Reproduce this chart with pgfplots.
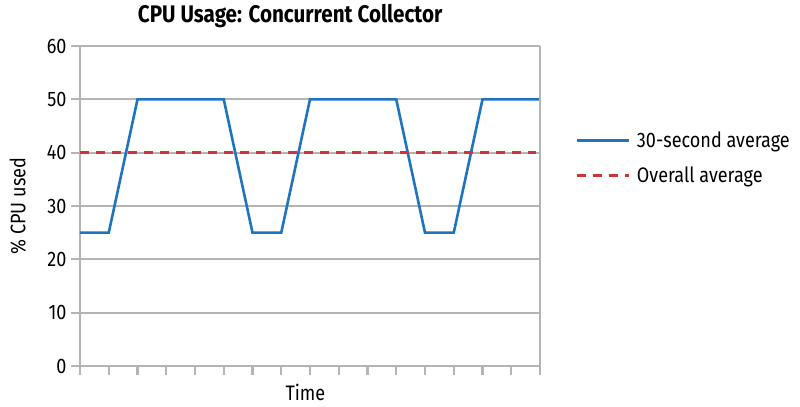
\documentclass[border=0pt]{standalone}
\usepackage{fontspec}
\setmainfont[FakeStretch=0.86]{Fira Sans}
\usepackage{pgfplots}
\pgfplotsset{compat=1.18}
\definecolor{cpublue}{HTML}{1F74C0}
\definecolor{avgred}{HTML}{D0343A}
\definecolor{gridgray}{HTML}{B4B4B4}
\begin{document}
\begin{tikzpicture}[x=1bp,y=1bp]
\useasboundingbox (-80bp,-41bp) rectangle (720bp,366bp);
\begin{axis}[
  at={(0,0)}, anchor=origin,
  scale only axis,
  width=460bp, height=320bp,
  xmin=0, xmax=16, ymin=0, ymax=60,
  xtick={0,...,16}, xticklabels={},
  ytick={0,10,...,60},
  axis x line*=bottom,
  axis y line*=left,
  ymajorgrids,
  grid style={gridgray, line width=2.2bp},
  axis line style={gridgray, line width=2.2bp, -},
  major tick length=9bp,
  tick style={gridgray, line width=2.2bp},
  xtick align=outside, ytick align=outside,
  tick label style={font=\fontsize{21bp}{24bp}\selectfont},
  yticklabel style={xshift=-1bp},
  /pgf/number format/assume math mode=true,
  xlabel={Time},
  ylabel={\% CPU used},
  label style={font=\fontsize{21bp}{24bp}\selectfont},
  xlabel style={at={(axis description cs:0.49,0)}, anchor=north, yshift=-15bp},
  ylabel style={at={(axis description cs:-0.135,0.5)}, anchor=center},
  title={\textbf{CPU Usage: Concurrent Collector}},
  title style={font=\fontsize{24bp}{28bp}\selectfont, at={(axis description cs:0.457,1)}, anchor=south, yshift=9bp},
  clip=false,
  legend style={at={(rel axis cs:1.07,0.745)}, anchor=north west, draw=none, fill=none,
    font=\fontsize{21bp}{24bp}\selectfont, row sep=14bp,
    /tikz/every odd column/.append style={column sep=5bp}},
  legend cell align=left,
  legend image code/.code={\draw[#1] (0bp,0bp) -- (52bp,0bp);},
]
\addplot[cpublue, line width=2.6bp] coordinates {
(0,25) (1,25) (2,50) (5,50) (6,25) (7,25) (8,50) (11,50) (12,25) (13,25) (14,50) (16,50)};
\addlegendentry{30-second average}
\addplot[avgred, line width=2.6bp, dash pattern=on 9bp off 7bp] coordinates {(0,40) (15.85,40)};
\addlegendentry{Overall average}
\draw[gridgray, line width=2.2bp] (rel axis cs:1,0) -- (rel axis cs:1,1);
\end{axis}
\end{tikzpicture}
\end{document}
